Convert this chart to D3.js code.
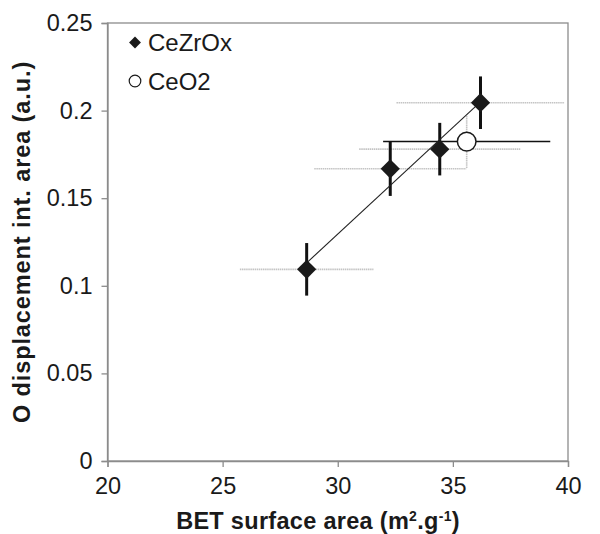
<!DOCTYPE html>
<html><head><meta charset="utf-8">
<script src="https://cdn.jsdelivr.net/npm/d3@7"></script>
<style>body{margin:0;background:#fff}svg{display:block}</style>
</head><body>
<script>
// Data
const ceZrOxBET = [28.65, 32.28, 34.43, 36.2];
const ceZrOxBETErr = [2.9, 3.3, 3.5, 3.65];
const ceZrOxO = [0.1094, 0.1668, 0.178, 0.2045];
const ceZrOxOErr = [0.015, 0.0155, 0.015, 0.015];
const ceO2BET = [35.6];
const ceO2BETErr = [3.63];
const ceO2O = [0.1823];
const ceO2OErr = [0.015];
const xTicks = [20, 25, 30, 35, 40];
const yTicks = [0, 0.05, 0.1, 0.15, 0.2, 0.25];
const seriesNames = ["CeZrOx", "CeO2"];

const W = 600, H = 534;
const svg = d3.select("body").append("svg").attr("width", W).attr("height", H);
const x = d3.scaleLinear().domain([20, 40]).range([107.5, 568]);
const y = d3.scaleLinear().domain([0, 0.25]).range([461, 23]);
const font = "'Liberation Sans', Arial, sans-serif";
const axisGray = "#8c8c8c";

// frame
svg.append("rect").attr("x", x(20)).attr("y", y(0.25))
  .attr("width", x(40) - x(20)).attr("height", y(0) - y(0.25))
  .attr("fill", "none").attr("stroke", axisGray).attr("stroke-width", 1.3);

// axes
const xAxis = svg.append("g").attr("transform", `translate(0,${y(0)})`)
  .call(d3.axisBottom(x).tickValues(xTicks).tickSize(6).tickPadding(10).tickFormat(d3.format("d")));
const yAxis = svg.append("g").attr("transform", `translate(${x(20)},0)`)
  .call(d3.axisLeft(y).tickValues(yTicks).tickSize(6).tickPadding(9).tickFormat(d => d === 0 ? "0" : String(d)));
[xAxis, yAxis].forEach(g => {
  g.select(".domain").attr("stroke", axisGray).attr("stroke-width", 1.3);
  g.selectAll(".tick line").attr("stroke", axisGray).attr("stroke-width", 1.3);
  g.selectAll(".tick text").attr("font-family", font).style("font-size", "23.5px").attr("fill", "#1a1a1a");
});

const dz = ceZrOxBET.map((v, i) => ({x: v, xe: ceZrOxBETErr[i], y: ceZrOxO[i], ye: ceZrOxOErr[i]}));
const dc = ceO2BET.map((v, i) => ({x: v, xe: ceO2BETErr[i], y: ceO2O[i], ye: ceO2OErr[i]}));

// gray horizontal error bars (CeZrOx) and gray vertical (CeO2)
svg.append("g").selectAll("line").data(dz).join("line")
  .attr("x1", d => x(d.x - d.xe)).attr("x2", d => x(d.x + d.xe))
  .attr("y1", d => y(d.y)).attr("y2", d => y(d.y))
  .attr("stroke", "#c4c4c4").attr("stroke-width", 1.6).attr("stroke-dasharray", "1.5,0.6");
svg.append("g").selectAll("line").data(dc).join("line")
  .attr("x1", d => x(d.x)).attr("x2", d => x(d.x))
  .attr("y1", d => y(d.y - d.ye)).attr("y2", d => y(d.y + d.ye))
  .attr("stroke", "#c4c4c4").attr("stroke-width", 1.6).attr("stroke-dasharray", "1.5,0.6");

// black horizontal error bar for CeO2
svg.append("g").selectAll("line").data(dc).join("line")
  .attr("x1", d => x(d.x - d.xe)).attr("x2", d => x(d.x + d.xe))
  .attr("y1", d => y(d.y)).attr("y2", d => y(d.y))
  .attr("stroke", "#111").attr("stroke-width", 1.5);

// black vertical error bars CeZrOx
svg.append("g").selectAll("line").data(dz).join("line")
  .attr("x1", d => x(d.x)).attr("x2", d => x(d.x))
  .attr("y1", d => y(d.y - d.ye)).attr("y2", d => y(d.y + d.ye))
  .attr("stroke", "#111").attr("stroke-width", 3);

// linear trendline of CeZrOx
const mx = d3.mean(ceZrOxBET), my = d3.mean(ceZrOxO);
const slope = d3.sum(ceZrOxBET, (v, i) => (v - mx) * (ceZrOxO[i] - my)) / d3.sum(ceZrOxBET, v => (v - mx) ** 2);
const icpt = my - slope * mx;
const xr = d3.extent(ceZrOxBET);
svg.append("path").attr("d", d3.line()(xr.map(v => [x(v), y(icpt + slope * v)])))
  .attr("stroke", "#222").attr("stroke-width", 1.1).attr("fill", "none");

// markers
const diamond = d3.symbol().type(d3.symbolSquare).size(185);
svg.append("g").selectAll("path").data(dz).join("path")
  .attr("d", diamond)
  .attr("transform", d => `translate(${x(d.x)},${y(d.y)}) rotate(45)`)
  .attr("fill", "#1a1a1a");
svg.append("g").selectAll("circle").data(dc).join("circle")
  .attr("cx", d => x(d.x)).attr("cy", d => y(d.y)).attr("r", 9.3)
  .attr("fill", "#fff").attr("stroke", "#1a1a1a").attr("stroke-width", 1.5);

// legend
const lg = svg.append("g");
lg.append("path").attr("d", d3.symbol().type(d3.symbolSquare).size(70)())
  .attr("transform", "translate(135,42.5) rotate(45)").attr("fill", "#1a1a1a");
lg.append("circle").attr("cx", 135).attr("cy", 81).attr("r", 5.8)
  .attr("fill", "#fff").attr("stroke", "#1a1a1a").attr("stroke-width", 1.2);
lg.selectAll("text").data(seriesNames).join("text")
  .attr("x", 148).attr("y", (d, i) => 51 + i * 38.5)
  .attr("font-family", font).attr("font-size", 24).attr("fill", "#1a1a1a").text(d => d);

// axis titles
const xt = svg.append("text").attr("x", 318).attr("y", 529).attr("text-anchor", "middle")
  .attr("font-family", font).attr("font-size", 23.5).attr("font-weight", "bold")
  .attr("letter-spacing", 0.3).attr("fill", "#1a1a1a");
xt.append("tspan").text("BET surface area (m");
xt.append("tspan").attr("font-size", 14).attr("dy", -8).text("2");
xt.append("tspan").attr("dy", 8).text(".g");
xt.append("tspan").attr("font-size", 14).attr("dy", -8).text("-1");
xt.append("tspan").attr("dy", 8).text(")");

svg.append("text").attr("transform", `translate(29.5,${(y(0) + y(0.25)) / 2}) rotate(-90)`)
  .attr("text-anchor", "middle").attr("font-family", font).attr("font-size", 23.5)
  .attr("letter-spacing", 0.9)
  .attr("font-weight", "bold").attr("fill", "#1a1a1a").text("O displacement int. area (a.u.)");
</script>
</body></html>
